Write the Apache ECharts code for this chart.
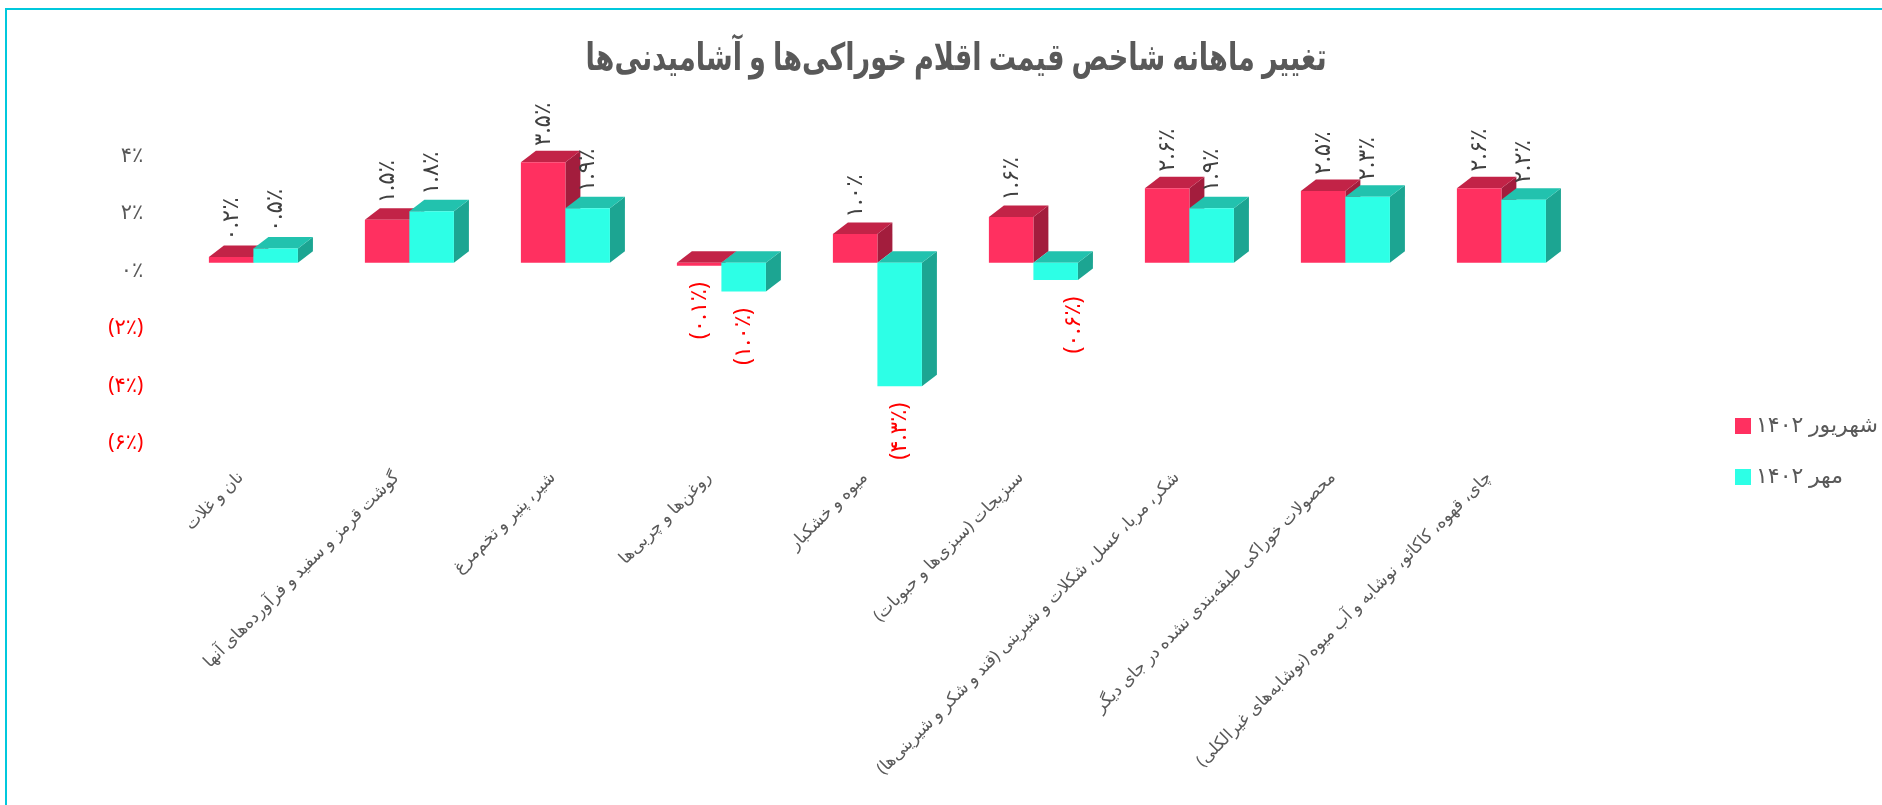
<!DOCTYPE html>
<html>
<head>
<meta charset="utf-8">
<title>chart</title>
<script src="https://cdn.jsdelivr.net/npm/echarts@6/dist/echarts.min.js"></script>
<style>
html, body { margin: 0; padding: 0; background: #fff; }
/* frame: cyan line on top and left only */
.frame { position: absolute; left: 5px; top: 8px; right: 0; bottom: 0; border-top: 2px solid #00c8dc; border-left: 2px solid #00c8dc; }
#chart { position: absolute; left: 0; top: 0; width: 1882px; height: 805px; }
</style>
</head>
<body>
<div class="frame"></div>
<div id="chart"></div>
<script>
const chartTitle = 'تغییر ماهانه شاخص قیمت اقلام خوراکی‌ها و آشامیدنی‌ها'
const categories = [
    'نان و غلات',
    'گوشت قرمز و سفید و فرآورده‌های آنها',
    'شیر، پنیر و تخم‌مرغ',
    'روغن‌ها و چربی‌ها',
    'میوه و خشکبار',
    'سبزیجات (سبزی‌ها و حبوبات)',
    'شکر، مربا، عسل، شکلات و شیرینی (قند و شکر و شیرینی‌ها)',
    'محصولات خوراکی طبقه‌بندی نشده در جای دیگر',
    'چای، قهوه، کاکائو، نوشابه و آب میوه (نوشابه‌های غیرالکلی)'
]
const seriesNames = ['شهریور ۱۴۰۲', 'مهر ۱۴۰۲']
const shahrivarValues = [0.2, 1.5, 3.5, -0.1, 1.0, 1.6, 2.6, 2.5, 2.6]
const mehrValues = [0.5, 1.8, 1.9, -1.0, -4.3, -0.6, 1.9, 2.3, 2.2]

const fontFamily = '"Noto Sans", "DejaVu Sans", sans-serif'

// latin digits -> persian digits
const toFa = (s) => String(s).replace(/\d/g, d => '۰۱۲۳۴۵۶۷۸۹'[d])

const formatPercent = (v, digits) => {
    const txt = toFa(Math.abs(v).toFixed(digits)) + '٪'
    return v < 0 ? '(' + txt + ')' : txt
}

// one 3d bar: front rect, top face, side face and a rotated value label
const renderBar = (offsetIdx, colors) => (params, api) => {
    const idx = api.value(0)
    const val = api.value(1)
    const bandWidth = api.size([1, 0])[0]
    const barWidth = bandWidth * 0.2853
    const depthX = 15
    const depthY = 11.5
    const center = api.coord([idx, 0])
    const x0 = center[0] + offsetIdx * barWidth
    const x1 = x0 + barWidth
    const yZero = center[1]
    const yVal = api.coord([idx, val])[1]
    const yTop = Math.min(yZero, yVal)
    const yBottom = Math.max(yZero, yVal)

    const labelY = val < 0 ? yBottom + 45 : yTop - 38
    // the -0.6 label sits off to the right in the original
    const labelNudge = (offsetIdx === 0 && idx === 5) ? 18 : 0
    return {
        type: 'group',
        children: [
            {
                type: 'polygon',
                shape: { points: [[x1, yTop], [x1 + depthX, yTop - depthY], [x1 + depthX, yBottom - depthY], [x1, yBottom]] },
                style: { fill: colors.side }
            },
            {
                type: 'polygon',
                shape: { points: [[x0, yTop], [x0 + depthX, yTop - depthY], [x1 + depthX, yTop - depthY], [x1, yTop]] },
                style: { fill: colors.top }
            },
            {
                type: 'rect',
                shape: { x: x0, y: yTop, width: barWidth, height: yBottom - yTop },
                style: { fill: colors.front }
            },
            {
                type: 'text',
                x: (x0 + x1) / 2 + labelNudge,
                y: labelY,
                rotation: Math.PI / 2,
                z2: 10,
                style: {
                    text: formatPercent(val, 1),
                    align: 'center',
                    verticalAlign: 'middle',
                    fontSize: 23,
                    fontFamily: fontFamily,
                    fill: val < 0 ? '#ff0000' : '#404040'
                }
            }
        ]
    }
}

const chart = echarts.init(document.getElementById('chart'))

chart.setOption({
    backgroundColor: 'transparent',
    animation: false,
    // title squeezed horizontally like the reference
    graphic: [{
        type: 'text',
        x: 956,
        y: 59,
        scaleX: 0.715,
        style: {
            text: chartTitle,
            align: 'center',
            verticalAlign: 'middle',
            fontSize: 38,
            fontWeight: 'bold',
            fontFamily: fontFamily,
            fill: '#595959'
        }
    }],
    legend: {
        orient: 'vertical',
        left: 1730,
        top: 410,
        itemWidth: 16,
        itemHeight: 16,
        itemGap: 29,
        icon: 'rect',
        data: seriesNames,
        textStyle: { fontSize: 22, color: '#595959', fontFamily: fontFamily }
    },
    grid: { left: 175.4, right: 302.6, top: 148, height: 287, outerBoundsMode: 'none' },
    xAxis: {
        type: 'category',
        data: categories,
        axisLine: { show: false },
        axisTick: { show: false },
        axisLabel: {
            interval: 0,
            rotate: 45,
            margin: 27,
            // RLE so that closing brackets stay on the left end
            formatter: (v) => '{a|\u202B' + v + '\u202C}',
            rich: {
                a: { fontSize: 17, color: '#595959', fontFamily: fontFamily, padding: [0, 18, 0, 0] }
            }
        }
    },
    yAxis: {
        type: 'value',
        min: -6,
        max: 4,
        interval: 2,
        splitLine: { show: false },
        axisLine: { show: false },
        axisTick: { show: false },
        axisLabel: {
            margin: 32,
            fontSize: 21,
            fontFamily: fontFamily,
            verticalAlign: 'top',
            lineHeight: 16,
            color: (v) => (Number(v) < 0 ? '#ff0000' : '#595959'),
            formatter: (v) => formatPercent(v, 0)
        }
    },
    series: [
        {
            name: seriesNames[0],
            type: 'custom',
            itemStyle: { color: '#ff3060' },
            encode: { x: 0, y: 1 },
            data: shahrivarValues.map((v, i) => [i, v]),
            renderItem: renderBar(-1, { front: '#ff3060', top: '#c22347', side: '#a31d3d' })
        },
        {
            name: seriesNames[1],
            type: 'custom',
            itemStyle: { color: '#2dffe6' },
            encode: { x: 0, y: 1 },
            data: mehrValues.map((v, i) => [i, v]),
            renderItem: renderBar(0, { front: '#2dffe6', top: '#22c2ae', side: '#1ca592' })
        }
    ]
})
</script>
</body>
</html>
